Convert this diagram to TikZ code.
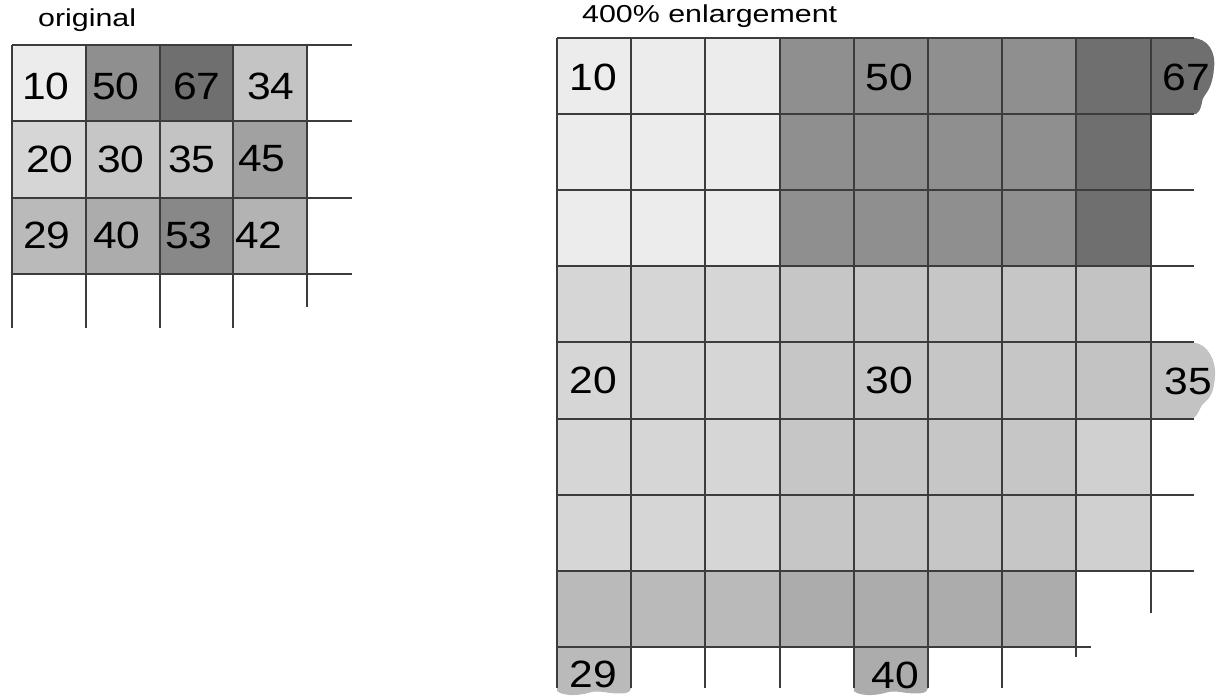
\documentclass[tikz,border=0pt]{standalone}
\usepackage{fontspec}
\setmainfont{Liberation Sans}
\newfontfamily\numfont[FakeStretch=1.12]{Liberation Sans}
\newfontfamily\capfont[FakeStretch=1.24]{Liberation Sans}
\usepackage{tikz}
\definecolor{gridln}{HTML}{3C3C3C}
\definecolor{v10}{HTML}{ECECEC}
\definecolor{v50}{HTML}{8F8F8F}
\definecolor{v67}{HTML}{6F6F6F}
\definecolor{v34}{HTML}{C4C4C4}
\definecolor{v20}{HTML}{D6D6D6}
\definecolor{v30}{HTML}{C6C6C6}
\definecolor{v35}{HTML}{C3C3C3}
\definecolor{v45}{HTML}{A1A1A1}
\definecolor{v29}{HTML}{BABABA}
\definecolor{v40}{HTML}{ACACAC}
\definecolor{v53}{HTML}{888888}
\definecolor{v42}{HTML}{B3B3B3}
\definecolor{fade}{HTML}{D0D0D0}
\newcommand{\spill}[2]{\begin{scope}[shift={(#1,0)}]
  \fill[#2] (0,646.8) -- (74.2,646.8) -- (74.2,688) .. controls (74,694) and (64,694) .. (54,693)
    .. controls (44,692) and (40,690) .. (31,693) .. controls (20,696) and (6,696) .. (0,691) -- cycle;\end{scope}}
\tikzset{gridline/.style={gridln,line width=2pt},
  num/.style={font=\numfont\fontsize{38}{40}\selectfont,inner sep=0pt},
  caption/.style={font=\capfont\fontsize{24.5}{26}\selectfont,inner sep=0pt,anchor=base west}}

\begin{document}
\begin{tikzpicture}[x=1pt,y=-1pt]
\useasboundingbox (0,0) rectangle (1217,696);
% original
\foreach \c/\i/\j in {v10/0/0,v50/1/0,v67/2/0,v34/3/0,v20/0/1,v30/1/1,v35/2/1,v45/3/1,v29/0/2,v40/1/2,v53/2/2,v42/3/2}
  \fill[\c] (12+73.75*\i,45+76.3*\j) rectangle ++(73.75,76.3);
\foreach \j in {0,...,3} \draw[gridline] (12,45+76.3*\j) -- (352,45+76.3*\j);
\foreach \i in {0,...,3} \draw[gridline] (12+73.75*\i,45) -- (12+73.75*\i,328);
\draw[gridline] (307,45) -- (307,307);
\node[caption] (orig) at (38,27) {original};
\foreach \val/\x/\y in {10/46/86,50/116/86,67/197/86,34/271/86,20/50/159,30/121/159,35/192/159,45/262/159,29/47/235,40/117/235,53/189/235,42/259/235}
  \node[num] (o\val) at (\x,\y) {\val};
% enlargement
\fill[v10] (557,38) rectangle (779.6,266.3); \fill[v50] (779.6,38) rectangle (1076.4,266.3); \fill[v67] (1076.4,38) rectangle (1150.6,266.3);
\fill[v20] (557,266.3) rectangle (779.6,570.7); \fill[v30] (779.6,266.3) rectangle (1076.4,570.7);
\fill[v35] (1076.4,266.3) rectangle (1150.6,418.5); \fill[fade] (1076.4,418.5) rectangle (1150.6,570.7);
\fill[v29] (557,570.7) rectangle (779.6,646.8); \fill[v40] (779.6,570.7) rectangle (1076.4,646.8);
\fill[v67] (1150.6,38) -- (1192,38) .. controls (1208,38) and (1216,52) .. (1214,68) .. controls (1213,82) and (1209,90) .. (1205,95)
  .. controls (1200,100) and (1204,108) .. (1196,114.1) -- (1150.6,114.1) -- cycle;
\fill[v35] (1150.6,342.4) -- (1193,342.4) .. controls (1208,344) and (1216,360) .. (1215,376) .. controls (1214,392) and (1210,398) .. (1205,402)
  .. controls (1199,406) and (1200,414) .. (1193,418.5) -- (1150.6,418.5) -- cycle;
\spill{557}{v29} \spill{853.8}{v40}
\foreach \j in {0,...,7} \draw[gridline] (557,38+76.1*\j) -- (1194,38+76.1*\j);
\draw[gridline] (557,646.8) -- (1091,646.8);
\foreach \i in {0,...,6} \draw[gridline] (557+74.2*\i,38) -- (557+74.2*\i,688);
\draw[gridline] (1076.4,38) -- (1076.4,657);
\draw[gridline] (1150.6,38) -- (1150.6,613);
\node[caption] (enl) at (582,22) {400\% enlargement};
\foreach \val/\x/\y in {10/593/77,50/889/77,67/1186/77,20/593/380,30/889/380,35/1188/381,29/593/674,40/895/675}
  \node[num] (e\val) at (\x,\y) {\val};
\end{tikzpicture}
\end{document}
